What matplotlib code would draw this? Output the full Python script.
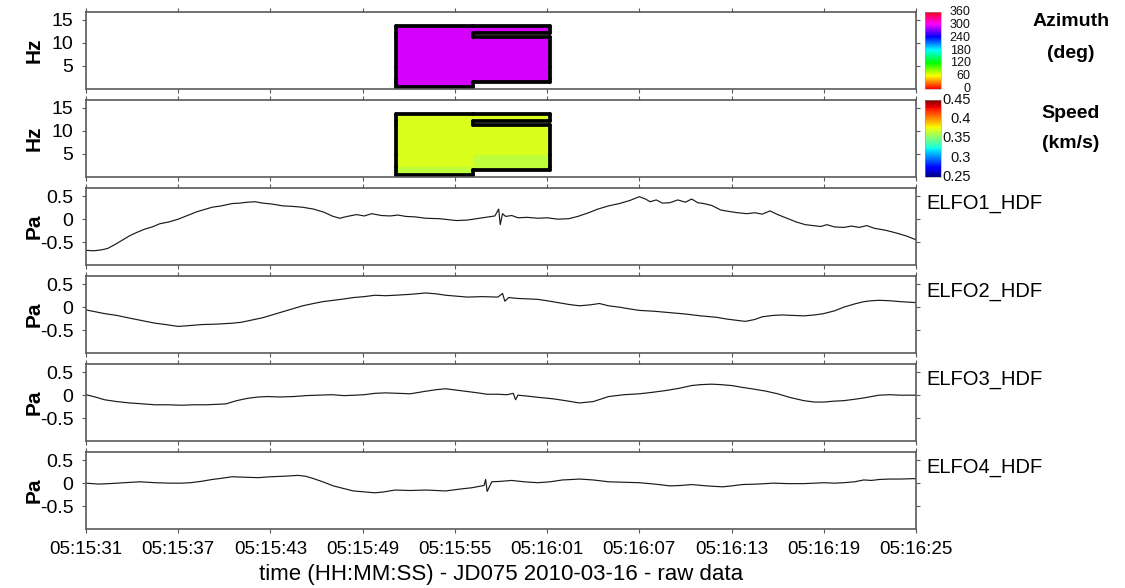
import numpy as np
import matplotlib
matplotlib.use("Agg")
import matplotlib.pyplot as plt
from matplotlib.collections import LineCollection
from matplotlib.colors import Normalize
from matplotlib.cm import ScalarMappable
from matplotlib.transforms import blended_transform_factory

plt.rcParams['font.family'] = ['Liberation Sans', 'DejaVu Sans']

# ---------------------------------------------------------------- data
# time axis: seconds after 05:15:31 (JD075, 2010-03-16)
tick_seconds = [0, 6, 12, 18, 24, 30, 36, 42, 48, 54]
tick_labels = ['05:15:31', '05:15:37', '05:15:43', '05:15:49', '05:15:55',
               '05:16:01', '05:16:07', '05:16:13', '05:16:19', '05:16:25']

# detection grid (time windows x frequency bands)
window_edges = [20.2, 25.2, 30.2]
freq_edges = [0.36, 1.43, 2.2, 4.8, 11.2, 12.2, 13.56]
azimuth_win1 = [294, 294, 294, 294, 294, 294]
azimuth_win2 = [np.nan, 294, 294, 294, np.nan, 294]
speed_win1 = [0.366, 0.366, 0.373, 0.373, 0.373, 0.373]
speed_win2 = [np.nan, 0.366, 0.366, 0.373, np.nan, 0.373]

# pressure traces (Pa)
elfo1_t = [0, 0.5, 1.0, 1.4, 1.85, 2.4, 2.85, 3.3, 3.8, 4.3, 4.8, 5.4, 6.0,
           6.6, 7.2, 7.7, 8.2, 8.8, 9.5, 10.0, 10.5, 11.0, 11.5, 12.1, 12.8,
           13.4, 14.1, 14.8, 15.5, 16.0, 16.5, 17.0, 17.6, 18.1, 18.6, 19.2,
           19.8, 20.3, 20.8, 21.4, 22.1, 23.0, 24.1, 24.8, 25.4, 26.0, 26.6,
           26.85, 26.95, 27.1, 27.3, 27.7, 28.1, 28.7, 29.4, 30.0, 30.7, 31.4,
           32.0, 32.7, 33.3, 34.0, 34.7, 35.4, 36.0, 36.4, 36.7, 37.1, 37.5,
           38.0, 38.5, 39.0, 39.4, 39.8, 40.2, 40.7, 41.3, 41.8, 42.4, 43.0,
           43.5, 44.0, 44.5, 45.0, 45.6, 46.2, 46.8, 47.3, 47.8, 48.2, 48.7,
           49.3, 49.8, 50.3, 50.8, 51.3, 52.0, 52.7, 53.4, 54.0]
elfo1_p = [-0.68, -0.69, -0.67, -0.64, -0.56, -0.45, -0.36, -0.29, -0.22,
           -0.17, -0.10, -0.06, 0.0, 0.08, 0.16, 0.21, 0.26, 0.29, 0.34, 0.35,
           0.37, 0.38, 0.35, 0.33, 0.29, 0.28, 0.26, 0.22, 0.15, 0.07, 0.02,
           0.06, 0.10, 0.07, 0.12, 0.08, 0.07, 0.09, 0.06, 0.05, 0.02, 0.01,
           -0.03, -0.02, 0.01, 0.04, 0.07, 0.22, -0.12, 0.12, 0.06, 0.08,
           0.03, 0.04, 0.02, 0.03, 0.0, 0.01, 0.06, 0.14, 0.22, 0.29, 0.34,
           0.41, 0.49, 0.44, 0.38, 0.42, 0.35, 0.36, 0.42, 0.37, 0.44, 0.36,
           0.34, 0.30, 0.20, 0.17, 0.14, 0.12, 0.14, 0.11, 0.18, 0.10, 0.02,
           -0.06, -0.12, -0.14, -0.16, -0.12, -0.17, -0.18, -0.15, -0.18,
           -0.14, -0.20, -0.24, -0.30, -0.37, -0.45]

elfo2_t = [0, 1.2, 2.0, 2.85, 3.6, 4.5, 5.2, 6.0, 6.8, 7.5, 8.5, 9.5, 10.1,
           10.8, 11.5, 12.1, 12.8, 13.5, 14.1, 14.8, 15.4, 16.1, 16.8, 17.4,
           18.1, 18.8, 19.5, 20.1, 21.1, 22.1, 22.8, 23.4, 24.1, 24.8, 25.8,
           26.8, 27.1, 27.25, 27.5, 28.1, 28.8, 29.4, 30.0, 30.7, 31.4, 32.1,
           32.8, 33.4, 34.0, 34.7, 35.4, 36.0, 37.0, 38.0, 39.0, 40.0, 41.0,
           41.7, 42.4, 42.9, 43.5, 44.0, 44.7, 45.3, 46.0, 46.7, 47.4, 48.0,
           48.7, 49.3, 50.0, 50.6, 51.1, 51.6, 52.3, 53.0, 54.0]
elfo2_p = [-0.06, -0.14, -0.18, -0.24, -0.29, -0.35, -0.38, -0.42, -0.40,
           -0.38, -0.37, -0.35, -0.33, -0.28, -0.23, -0.17, -0.10, -0.03,
           0.03, 0.08, 0.12, 0.15, 0.18, 0.21, 0.23, 0.26, 0.25, 0.26, 0.28,
           0.31, 0.29, 0.26, 0.24, 0.22, 0.23, 0.22, 0.30, 0.13, 0.21, 0.19,
           0.18, 0.17, 0.14, 0.10, 0.06, 0.03, 0.05, 0.08, 0.03, 0.0, -0.04,
           -0.07, -0.09, -0.12, -0.15, -0.19, -0.22, -0.26, -0.29, -0.31,
           -0.27, -0.21, -0.18, -0.17, -0.18, -0.19, -0.17, -0.14, -0.08, 0.0,
           0.07, 0.12, 0.14, 0.15, 0.14, 0.12, 0.10]

elfo3_t = [0, 0.6, 1.2, 2.0, 2.85, 3.7, 4.5, 5.4, 6.2, 7.0, 7.8, 8.5, 9.1,
           9.8, 10.5, 11.2, 11.8, 12.6, 13.5, 14.3, 15.1, 16.0, 16.8, 17.5,
           18.1, 18.8, 19.5, 20.3, 21.1, 22.0, 22.8, 23.4, 24.1, 24.8, 25.5,
           26.1, 26.8, 27.4, 27.8, 27.95, 28.1, 28.7, 29.5, 30.4, 31.2, 32.1,
           33.0, 34.0, 35.0, 36.0, 36.8, 37.7, 38.6, 39.4, 40.0, 40.7, 41.3,
           42.0, 42.7, 43.3, 44.2, 45.0, 45.8, 46.7, 47.4, 48.0, 48.7, 49.3,
           50.0, 50.6, 51.1, 51.6, 52.3, 53.0, 54.0]
elfo3_p = [0.01, -0.04, -0.10, -0.14, -0.17, -0.19, -0.21, -0.21, -0.22,
           -0.21, -0.21, -0.20, -0.19, -0.12, -0.07, -0.04, -0.03, -0.04,
           -0.03, -0.01, 0.0, 0.01, -0.01, 0.0, 0.01, 0.04, 0.05, 0.04, 0.03,
           0.08, 0.12, 0.14, 0.11, 0.08, 0.05, 0.02, 0.02, 0.01, 0.04, -0.10,
           0.0, -0.02, -0.05, -0.08, -0.12, -0.17, -0.14, -0.03, 0.01, 0.03,
           0.06, 0.10, 0.15, 0.21, 0.23, 0.24, 0.23, 0.21, 0.17, 0.14, 0.09,
           0.03, -0.05, -0.12, -0.15, -0.15, -0.13, -0.12, -0.09, -0.06,
           -0.03, 0.0, 0.01, 0.0, 0.0]

elfo4_t = [0, 0.8, 1.5, 2.5, 3.5, 4.5, 5.5, 6.2, 6.8, 7.5, 8.2, 8.9, 9.5,
           10.3, 11.2, 12.0, 12.8, 13.8, 14.3, 14.8, 15.4, 16.1, 16.8, 17.4,
           18.1, 18.8, 19.4, 20.1, 21.1, 22.1, 22.8, 23.4, 24.3, 25.1, 25.9,
           26.0, 26.1, 26.4, 27.0, 27.7, 28.5, 29.4, 30.2, 31.0, 31.6, 32.1,
           33.0, 34.0, 35.0, 36.0, 37.0, 38.0, 38.7, 39.4, 40.4, 41.4, 42.0,
           42.7, 43.7, 44.7, 45.7, 46.7, 47.4, 48.0, 48.7, 49.3, 50.0, 50.6,
           51.1, 51.6, 52.3, 53.0, 54.0]
elfo4_p = [0.0, -0.02, -0.01, 0.01, 0.03, 0.01, 0.0, 0.0, 0.01, 0.04, 0.08,
           0.11, 0.14, 0.13, 0.12, 0.14, 0.15, 0.17, 0.15, 0.10, 0.03, -0.06,
           -0.12, -0.17, -0.19, -0.21, -0.19, -0.15, -0.16, -0.15, -0.16,
           -0.17, -0.13, -0.10, -0.05, 0.08, -0.18, 0.03, 0.04, 0.06, 0.03,
           0.01, 0.03, 0.07, 0.08, 0.09, 0.07, 0.03, 0.02, 0.01, -0.02, -0.06,
           -0.05, -0.03, -0.06, -0.08, -0.06, -0.03, -0.02, 0.0, -0.01, -0.01,
           0.0, 0.01, 0.0, 0.01, 0.03, 0.07, 0.06, 0.08, 0.09, 0.09, 0.10]

traces = [('ELFO1_HDF', elfo1_t, elfo1_p), ('ELFO2_HDF', elfo2_t, elfo2_p),
          ('ELFO3_HDF', elfo3_t, elfo3_p), ('ELFO4_HDF', elfo4_t, elfo4_p)]

# ---------------------------------------------------------------- layout
W, H = 1125, 588
fig = plt.figure(figsize=(W / 100, H / 100), dpi=100)

AX_L, AX_R = 86, 916
PANEL_TOPS = [12, 100, 188, 276, 364, 452]
PANEL_H = 77
CB_L, CB_R = 925, 941
SPINE = '#5a5a5a'


def px_axes(left, top, right, bottom):
    return fig.add_axes([left / W, 1 - bottom / H, (right - left) / W,
                         (bottom - top) / H])


def style_axes(ax, yticks, ylabels, show_x):
    ax.set_xlim(tick_seconds[0], tick_seconds[-1])
    ax.set_xticks(tick_seconds)
    if show_x:
        ax.set_xticklabels(tick_labels, fontsize=13.5)
    else:
        ax.set_xticklabels([])
    ax.set_yticks(yticks)
    ax.set_yticklabels(ylabels, fontsize=14)
    ax.tick_params(direction='out', length=3, width=0.8, color=SPINE,
                   top=True, right=True, pad=6)
    for s in ax.spines.values():
        s.set_color(SPINE)
        s.set_linewidth(1.2)


def outline_segments(values):
    filled = ~np.isnan(values)
    pad = np.pad(filled, 1, constant_values=False)
    te, fe = window_edges, freq_edges
    segs = []
    nf, nt = filled.shape
    for i in range(nf):
        for j in range(nt):
            if not filled[i, j]:
                continue
            if not pad[i + 1, j]:
                segs.append([(te[j], fe[i]), (te[j], fe[i + 1])])
            if not pad[i + 1, j + 2]:
                segs.append([(te[j + 1], fe[i]), (te[j + 1], fe[i + 1])])
            if not pad[i, j + 1]:
                segs.append([(te[j], fe[i]), (te[j + 1], fe[i])])
            if not pad[i + 2, j + 1]:
                segs.append([(te[j], fe[i + 1]), (te[j + 1], fe[i + 1])])
    return segs


def spectro_panel(top, values, cmap, norm):
    ax = px_axes(AX_L, top, AX_R, top + PANEL_H)
    ax.pcolormesh(window_edges, freq_edges, np.ma.masked_invalid(values),
                  cmap=cmap, norm=norm, shading='flat')
    ax.add_collection(LineCollection(outline_segments(values), colors='k',
                                     linewidths=2.7, capstyle='round'))
    ax.set_ylim(0, 16.7)
    style_axes(ax, [5, 10, 15], ['5', '10', '15'], False)
    ax.set_ylabel('Hz', fontsize=15, fontweight='bold')
    ax.yaxis.set_label_coords(-0.051, 0.5)
    return ax


def colorbar_panel(top, cmap, norm, ticks, labels, size):
    cax = px_axes(CB_L, top, CB_R, top + PANEL_H)
    cb = fig.colorbar(ScalarMappable(norm=norm, cmap=cmap), cax=cax)
    cb.set_ticks([])
    cb.outline.set_linewidth(0.4)
    cb.outline.set_edgecolor('#999999')
    tr = blended_transform_factory(cax.transAxes, cax.transData)
    for v, lab in zip(ticks, labels):
        cax.text(2.85, v, lab, transform=tr, ha='right', va='center',
                 fontsize=size, color='#111111')


# azimuth
az_norm = Normalize(0, 360)
az_vals = np.column_stack([azimuth_win1, azimuth_win2]).astype(float)
spectro_panel(PANEL_TOPS[0], az_vals, 'hsv', az_norm)
colorbar_panel(PANEL_TOPS[0], 'hsv', az_norm, [0, 60, 120, 180, 240, 300, 360],
               ['0', '60', '120', '180', '240', '300', '360'], 9)

# speed
sp_norm = Normalize(0.25, 0.45)
sp_vals = np.column_stack([speed_win1, speed_win2]).astype(float)
spectro_panel(PANEL_TOPS[1], sp_vals, 'jet', sp_norm)
colorbar_panel(PANEL_TOPS[1], 'jet', sp_norm, [0.25, 0.3, 0.35, 0.4, 0.45],
               ['0.25', '0.3', '0.35', '0.4', '0.45'], 10.5)

fig.text(1071 / W, 1 - 21 / H, 'Azimuth', ha='center', va='center',
         fontsize=14, fontweight='bold')
fig.text(1071 / W, 1 - 54 / H, '(deg)', ha='center', va='center',
         fontsize=14, fontweight='bold')
fig.text(1071 / W, 1 - 113 / H, 'Speed', ha='center', va='center',
         fontsize=14, fontweight='bold')
fig.text(1071 / W, 1 - 143 / H, '(km/s)', ha='center', va='center',
         fontsize=14, fontweight='bold')

# pressure traces
for k, (name, t, p) in enumerate(traces):
    top = PANEL_TOPS[2 + k]
    ax = px_axes(AX_L, top, AX_R, top + PANEL_H)
    ax.plot(t, p, color='#1a1a1a', linewidth=0.85)
    ax.set_ylim(-1.0, 0.68)
    last = k == len(traces) - 1
    style_axes(ax, [-0.5, 0, 0.5], ['-0.5', '0', '0.5'], last)
    ax.set_ylabel('Pa', fontsize=15, fontweight='bold')
    ax.yaxis.set_label_coords(-0.051, 0.5)
    ax.text(1.013, 0.80, name, transform=ax.transAxes, ha='left',
            va='center', fontsize=14.5)
    if last:
        ax.set_xlabel('time (HH:MM:SS) - JD075 2010-03-16 - raw data',
                      fontsize=16, labelpad=4)

fig.savefig('out.png', dpi=100)
